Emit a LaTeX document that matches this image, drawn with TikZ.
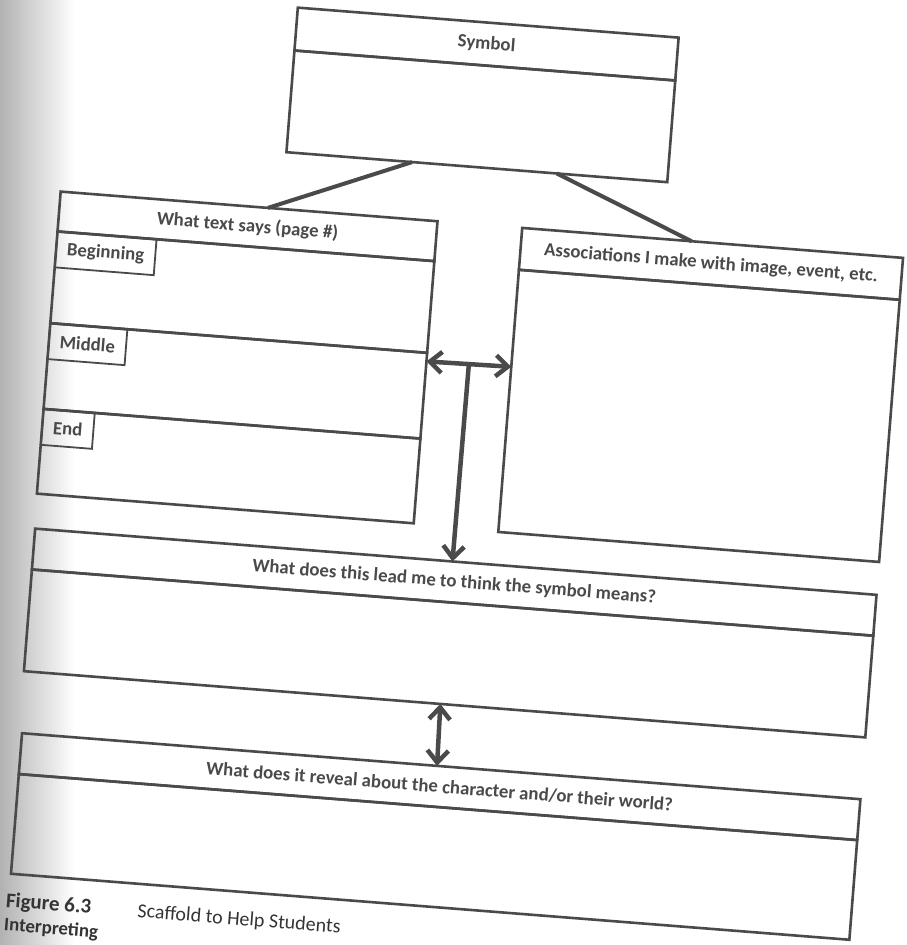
\documentclass[tikz,border=0pt]{standalone}
\usepackage{fontspec}
\setmainfont{Carlito}
\usetikzlibrary{arrows.meta,positioning,calc}
\definecolor{inkgray}{RGB}{74,74,74}
\definecolor{guttergray}{RGB}{178,178,178}

\begin{document}
\begin{tikzpicture}[x=1pt, y=1pt, >={Straight Barb[length=12pt,width=21pt]},
    box/.style={draw=inkgray, line width=2.6pt, inner sep=0pt, outer sep=0pt, text=inkgray, font=\bfseries\fontsize{18.8}{21}\selectfont},
    tag/.style={draw=inkgray, line width=1.8pt, inner xsep=11pt, inner ysep=0pt, outer sep=0pt, minimum height=36pt, anchor=north west, text=inkgray, font=\bfseries\fontsize{18.8}{21}\selectfont},
    link/.style={draw=inkgray, line width=4pt},
    flow/.style={draw=inkgray, line width=4.5pt, line cap=round}]
  \useasboundingbox (0,0) rectangle (907,945);
  \clip (0,0) rectangle (907,945);
  % page gutter
  \shade[left color=guttergray, right color=white] (0,0) rectangle (75,945);
  \begin{scope}[shift={(450,475)}, rotate=-4.5, transform shape]
    % symbol
    \node[box, minimum width=382pt, minimum height=43pt] (symhead) at (3,427.5) {Symbol};
    \node[box, minimum width=382pt, minimum height=102pt, below=0pt of symhead] (symbody) {};
    % what the text says
    \node[box, minimum width=378pt, minimum height=40pt] (txthead) at (-221,227) {What text says (page \#)};
    \node[box, minimum width=378pt, minimum height=92pt, below=0pt of txthead] (beg) {};
    \node[box, minimum width=378pt, minimum height=86pt, below=0pt of beg] (mid) {};
    \node[box, minimum width=378pt, minimum height=85pt, below=0pt of mid] (fin) {};
    \node[tag] (begtag) at (beg.north west) {Beginning};
    \node[tag] (midtag) at (mid.north west) {Middle};
    \node[tag] (fintag) at (fin.north west) {End};
    % associations
    \node[box, minimum width=382pt, minimum height=42pt] (assochead) at (244,226) {Associations I make with image, event, etc.};
    \node[box, minimum width=382pt, minimum height=263pt, below=0pt of assochead] (assocbody) {};
    % meaning and reveal
    \node[box, minimum width=844pt, minimum height=41pt] (leadhead) at (13,-111.5) {What does this lead me to think the symbol means?};
    \node[box, minimum width=844pt, minimum height=102pt, below=0pt of leadhead] (leadbody) {};
    \node[box, minimum width=841pt, minimum height=41pt] (revealhead) at (14.5,-316.5) {What does it reveal about the character and/or their world?};
    \node[box, minimum width=841pt, minimum height=100pt, below=0pt of revealhead] (revealbody) {};

    \draw[link] ($(symbody.south west)!0.33!(symbody.south east)$) -- ($(txthead.north west)!0.55!(txthead.north east)$);
    \draw[link] ($(symbody.south west)!0.71!(symbody.south east)$) -- ($(assochead.north west)!0.445!(assochead.north east)$);

    \coordinate (txtside) at ($(mid.north east)!0.1!(mid.south east)$);
    \coordinate (assocside) at ($(assocbody.north west)!0.37!(assocbody.south west)$);
    \coordinate (fork) at ($(txtside)!0.5!(assocside)$);
    \draw[flow, <->] (txtside) -- (assocside);
    \draw[flow, ->] (fork) -- ($(leadhead.north west)!0.496!(leadhead.north east)$);
    \draw[flow, <->] ($(leadbody.south west)!0.495!(leadbody.south east)$) -- ($(revealhead.north west)!0.495!(revealhead.north east)$);

    % caption
    \node[anchor=west, inner sep=0pt, text=inkgray!70!black, font=\bfseries\fontsize{21}{23}\selectfont] (figlabel) at (-409,-465) {Figure 6.3};
    \node[anchor=west, inner sep=0pt, text=inkgray!70!black, font=\bfseries\fontsize{19}{21}\selectfont] (figcont) at (-409,-489) {Interpreting};
    \node[anchor=west, inner sep=0pt, text=inkgray!70!black, font=\fontsize{20}{22}\selectfont] (figtitle) at (-277,-465) {Scaffold to Help Students};
  \end{scope}
\end{tikzpicture}
\end{document}
